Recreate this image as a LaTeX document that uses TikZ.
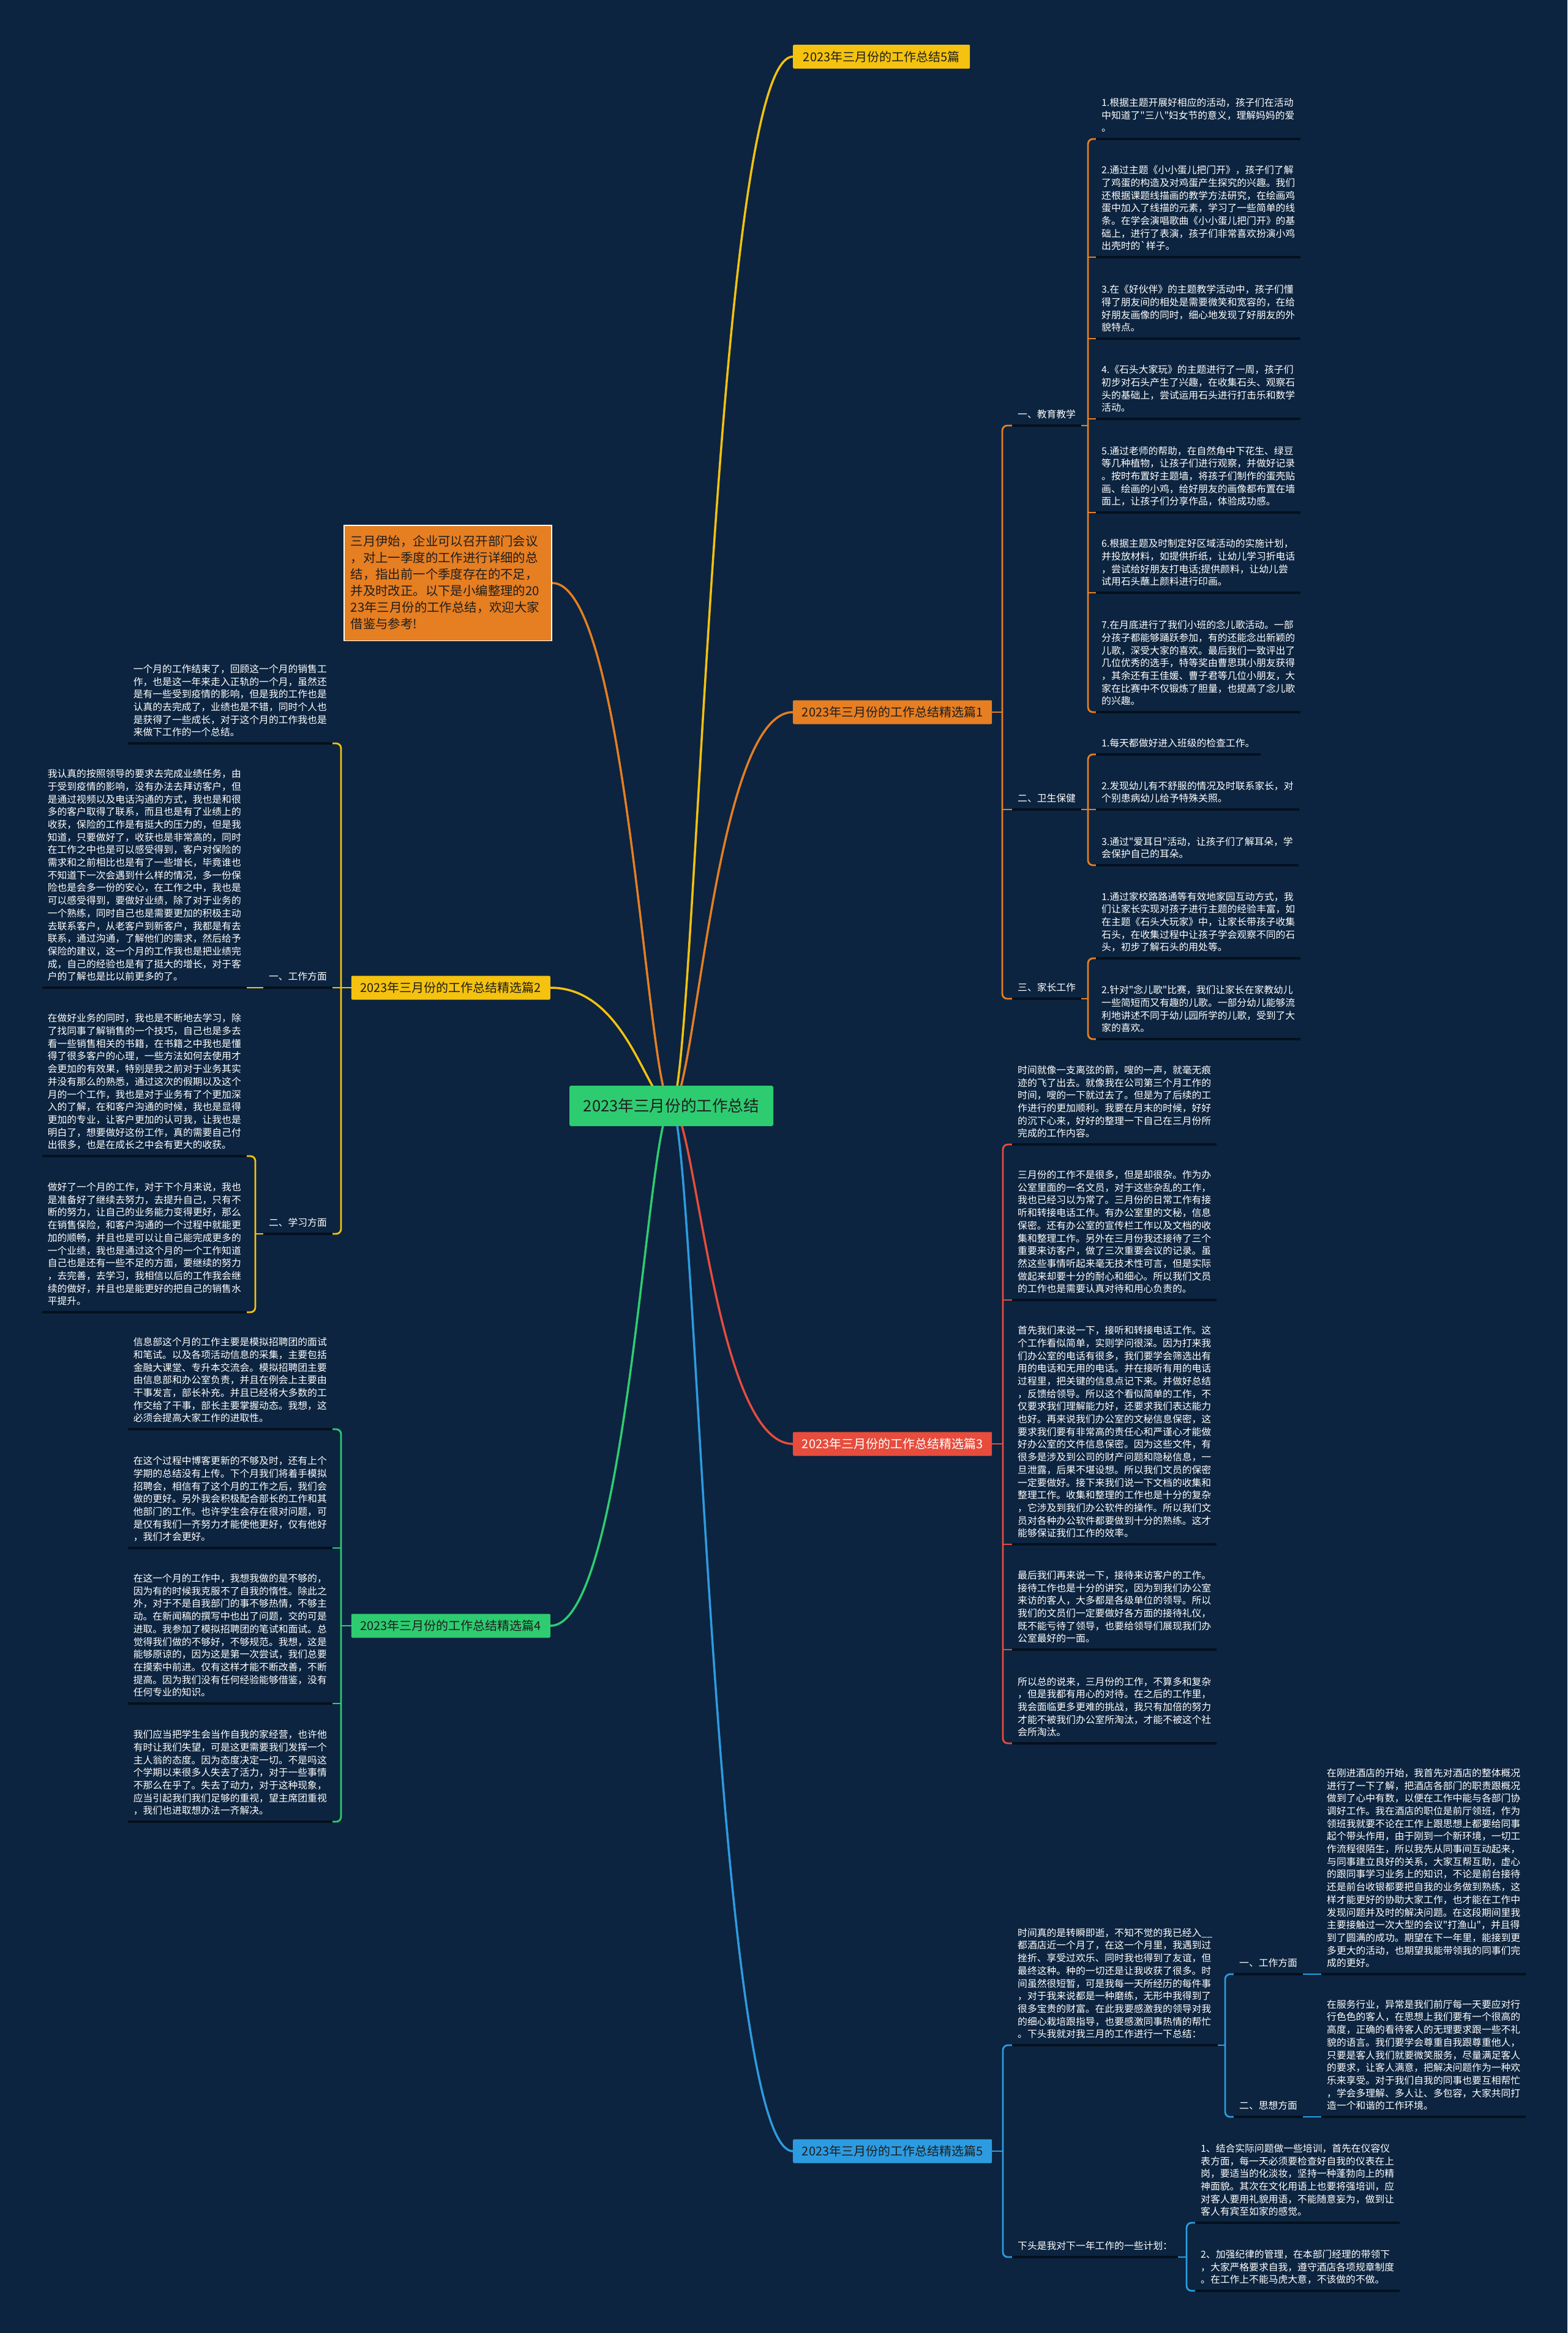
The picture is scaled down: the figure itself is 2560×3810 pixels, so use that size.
\documentclass[tikz,border=0pt]{standalone}
\usepackage{fontspec}
\setmainfont{Noto Sans CJK SC}[Ligatures=TeXOff]
\definecolor{bgc}{RGB}{12,36,63}
\definecolor{ulc}{RGB}{4,16,30}
\definecolor{cy}{HTML}{F4C20F}
\definecolor{co}{HTML}{E67E22}
\definecolor{cr}{HTML}{E74C3C}
\definecolor{cg}{HTML}{2ECC71}
\definecolor{cb}{HTML}{2D9BE0}
\definecolor{dtext}{RGB}{30,30,30}
\pgfdeclarelayer{bg}
\pgfsetlayers{bg,main}
\newcommand\lstrut{\rule[-4pt]{0pt}{19pt}}
\newcommand\istrut{\rule[-5pt]{0pt}{24pt}}
\tikzset{
 leaf/.style={text=white, font=\fontsize{15.8pt}{20.7pt}\selectfont, align=left, inner xsep=9pt, inner ysep=8pt, execute at begin node=\lstrut, execute at end node=\lstrut},
 uline/.style={draw=ulc, line width=3.5pt},
 conn/.style={draw=#1, line width=2.8pt, rounded corners=8pt},
 stub/.style={draw=#1, line width=2.8pt},
 curve/.style={draw=#1, line width=3.5pt},
 branch/.style={fill=#1, text=dtext, font=\fontsize{20pt}{24pt}\selectfont, minimum height=39pt, minimum width=325pt, inner xsep=14pt, inner ysep=0pt, rounded corners=2pt},
}
\newcommand\leafR[4]{\node[leaf,anchor=south west] (#1) at (#2,#3) {#4};\draw[uline] (#1.south west) -- (#1.south east);}
\newcommand\leafL[4]{\node[leaf,anchor=south east] (#1) at (#2,#3) {#4};\draw[uline] (#1.south west) -- (#1.south east);}
\begin{document}
\begin{tikzpicture}[x=1pt,y=-1pt]
\begin{pgfonlayer}{bg}
\fill[bgc] (0,0) rectangle (2560,3810);
\end{pgfonlayer}
\useasboundingbox (0,0) rectangle (2560,3810);

% root and branches
\node[fill=cg, text=dtext, font=\fontsize{25.6pt}{30pt}\selectfont, minimum width=333pt, minimum height=66pt, rounded corners=3pt] (root) at (1096.5,1806) {2023年三月份的工作总结};
\node[branch=cy, anchor=west, minimum width=289pt] (b5t) at (1295,92.5) {2023年三月份的工作总结5篇};
\node[branch=co, anchor=west] (b1) at (1295,1163) {2023年三月份的工作总结精选篇1};
\node[branch=cr, anchor=west, text=white] (b3) at (1295,2358) {2023年三月份的工作总结精选篇3};
\node[branch=cb, anchor=west] (b5) at (1295,3513) {2023年三月份的工作总结精选篇5};
\node[branch=cy, anchor=east] (b2) at (899,1613) {2023年三月份的工作总结精选篇2};
\node[branch=cg, anchor=east] (b4) at (899,2655) {2023年三月份的工作总结精选篇4};
\node[fill=co, draw=white, line width=1.5pt, text=dtext, font=\fontsize{20.4pt}{27pt}\selectfont, text width=317pt, align=left, inner xsep=11pt, inner ysep=14.8pt, anchor=north west, execute at begin node=\istrut, execute at end node=\istrut] (intro) at (561,857) {三月伊始，企业可以召开部门会议\\，对上一季度的工作进行详细的总\\结，指出前一个季度存在的不足，\\并及时改正。以下是小编整理的20\\23年三月份的工作总结，欢迎大家\\借鉴与参考!};

% branch 1
\leafR{lab11}{1653}{695}{一、教育教学}
\leafR{lab12}{1653}{1322}{二、卫生保健}
\leafR{lab13}{1653}{1631}{三、家长工作}
\leafR{i1}{1790}{227}{1.根据主题开展好相应的活动，孩子们在活动\\中知道了"三八"妇女节的意义，理解妈妈的爱\\。}
\leafR{i2}{1790}{420}{2.通过主题《小小蛋儿把门开》，孩子们了解\\了鸡蛋的构造及对鸡蛋产生探究的兴趣。我们\\还根据课题线描画的教学方法研究，在绘画鸡\\蛋中加入了线描的元素，学习了一些简单的线\\条。在学会演唱歌曲《小小蛋儿把门开》的基\\础上，进行了表演，孩子们非常喜欢扮演小鸡\\出壳时的`样子。}
\leafR{i3}{1790}{553}{3.在《好伙伴》的主题教学活动中，孩子们懂\\得了朋友间的相处是需要微笑和宽容的，在给\\好朋友画像的同时，细心地发现了好朋友的外\\貌特点。}
\leafR{i4}{1790}{684}{4.《石头大家玩》的主题进行了一周，孩子们\\初步对石头产生了兴趣，在收集石头、观察石\\头的基础上，尝试运用石头进行打击乐和数学\\活动。}
\leafR{i5}{1790}{837}{5.通过老师的帮助，在自然角中下花生、绿豆\\等几种植物，让孩子们进行观察，并做好记录\\。按时布置好主题墙，将孩子们制作的蛋壳贴\\画、绘画的小鸡，给好朋友的画像都布置在墙\\面上，让孩子们分享作品，体验成功感。}
\leafR{i6}{1790}{968}{6.根据主题及时制定好区域活动的实施计划，\\并投放材料，如提供折纸，让幼儿学习折电话\\，尝试给好朋友打电话;提供颜料，让幼儿尝\\试用石头蘸上颜料进行印画。}
\leafR{i7}{1790}{1163}{7.在月底进行了我们小班的念儿歌活动。一部\\分孩子都能够踊跃参加，有的还能念出新颖的\\儿歌，深受大家的喜欢。最后我们一致评出了\\几位优秀的选手，特等奖由曹思琪小朋友获得\\，其余还有王佳媛、曹子君等几位小朋友，大\\家在比赛中不仅锻炼了胆量，也提高了念儿歌\\的兴趣。}
\leafR{w1}{1790}{1232}{1.每天都做好进入班级的检查工作。}
\leafR{w2}{1790}{1322}{2.发现幼儿有不舒服的情况及时联系家长，对\\个别患病幼儿给予特殊关照。}
\leafR{w3}{1790}{1413}{3.通过"爱耳日"活动，让孩子们了解耳朵，学\\会保护自己的耳朵。}
\leafR{j1}{1790}{1565}{1.通过家校路路通等有效地家园互动方式，我\\们让家长实现对孩子进行主题的经验丰富，如\\在主题《石头大玩家》中，让家长带孩子收集\\石头，在收集过程中让孩子学会观察不同的石\\头，初步了解石头的用处等。}
\leafR{j2}{1790}{1697}{2.针对"念儿歌"比赛，我们让家长在家教幼儿\\一些简短而又有趣的儿歌。一部分幼儿能够流\\利地讲述不同于幼儿园所学的儿歌，受到了大\\家的喜欢。}

% branch 3
\leafR{p1}{1653}{1869}{时间就像一支离弦的箭，嗖的一声，就毫无痕\\迹的飞了出去。就像我在公司第三个月工作的\\时间，嗖的一下就过去了。但是为了后续的工\\作进行的更加顺利。我要在月末的时候，好好\\的沉下心来，好好的整理一下自己在三月份所\\完成的工作内容。}
\leafR{p2}{1653}{2123}{三月份的工作不是很多，但是却很杂。作为办\\公室里面的一名文员，对于这些杂乱的工作，\\我也已经习以为常了。三月份的日常工作有接\\听和转接电话工作。有办公室里的文秘，信息\\保密。还有办公室的宣传栏工作以及文档的收\\集和整理工作。另外在三月份我还接待了三个\\重要来访客户，做了三次重要会议的记录。虽\\然这些事情听起来毫无技术性可言，但是实际\\做起来却要十分的耐心和细心。所以我们文员\\的工作也是需要认真对待和用心负责的。}
\leafR{p3}{1653}{2522}{首先我们来说一下，接听和转接电话工作。这\\个工作看似简单，实则学问很深。因为打来我\\们办公室的电话有很多，我们要学会筛选出有\\用的电话和无用的电话。并在接听有用的电话\\过程里，把关键的信息点记下来。并做好总结\\，反馈给领导。所以这个看似简单的工作，不\\仅要求我们理解能力好，还要求我们表达能力\\也好。再来说我们办公室的文秘信息保密，这\\要求我们要有非常高的责任心和严谨心才能做\\好办公室的文件信息保密。因为这些文件，有\\很多是涉及到公司的财产问题和隐秘信息，一\\旦泄露，后果不堪设想。所以我们文员的保密\\一定要做好。接下来我们说一下文档的收集和\\整理工作。收集和整理的工作也是十分的复杂\\，它涉及到我们办公软件的操作。所以我们文\\员对各种办公软件都要做到十分的熟练。这才\\能够保证我们工作的效率。}
\leafR{p4}{1653}{2694}{最后我们再来说一下，接待来访客户的工作。\\接待工作也是十分的讲究，因为到我们办公室\\来访的客人，大多都是各级单位的领导。所以\\我们的文员们一定要做好各方面的接待礼仪，\\既不能亏待了领导，也要给领导们展现我们办\\公室最好的一面。}
\leafR{p5}{1653}{2847}{所以总的说来，三月份的工作，不算多和复杂\\，但是我都有用心的对待。在之后的工作里，\\我会面临更多更难的挑战，我只有加倍的努力\\才能不被我们办公室所淘汰，才能不被这个社\\会所淘汰。}

% branch 5
\leafR{q1}{1653}{3340}{时间真的是转瞬即逝，不知不觉的我已经入\_\_\\都酒店近一个月了，在这一个月里，我遇到过\\挫折、享受过欢乐、同时我也得到了友谊，但\\最终这种。种的一切还是让我收获了很多。时\\间虽然很短暂，可是我每一天所经历的每件事\\，对于我来说都是一种磨练，无形中我得到了\\很多宝贵的财富。在此我要感激我的领导对我\\的细心栽培跟指导，也要感激同事热情的帮忙\\。下头我就对我三月的工作进行一下总结：}
\leafR{ls1}{2015}{3224}{一、工作方面}
\leafR{ls2}{2015}{3457}{二、思想方面}
\leafR{lf1}{2158}{3224}{在刚进酒店的开始，我首先对酒店的整体概况\\进行了一下了解，把酒店各部门的职责跟概况\\做到了心中有数，以便在工作中能与各部门协\\调好工作。我在酒店的职位是前厅领班，作为\\领班我就要不论在工作上跟思想上都要给同事\\起个带头作用，由于刚到一个新环境，一切工\\作流程很陌生，所以我先从同事间互动起来，\\与同事建立良好的关系，大家互帮互助，虚心\\的跟同事学习业务上的知识，不论是前台接待\\还是前台收银都要把自我的业务做到熟练，这\\样才能更好的协助大家工作，也才能在工作中\\发现问题并及时的解决问题。在这段期间里我\\主要接触过一次大型的会议"打渔山"，并且得\\到了圆满的成功。期望在下一年里，能接到更\\多更大的活动，也期望我能带领我的同事们完\\成的更好。}
\leafR{lf2}{2158}{3457}{在服务行业，异常是我们前厅每一天要应对行\\行色色的客人，在思想上我们要有一个很高的\\高度，正确的看待客人的无理要求跟一些不礼\\貌的语言。我们要学会尊重自我跟尊重他人，\\只要是客人我们就要微笑服务，尽量满足客人\\的要求，让客人满意，把解决问题作为一种欢\\乐来享受。对于我们自我的同事也要互相帮忙\\，学会多理解、多人让、多包容，大家共同打\\造一个和谐的工作环境。}
\leafR{plan}{1653}{3686}{下头是我对下一年工作的一些计划：}
\leafR{pl1}{1952}{3630}{1、结合实际问题做一些培训，首先在仪容仪\\表方面，每一天必须要检查好自我的仪表在上\\岗，要适当的化淡妆，坚持一种蓬勃向上的精\\神面貌。其次在文化用语上也要将强培训，应\\对客人要用礼貌用语，不能随意妄为，做到让\\客人有宾至如家的感觉。}
\leafR{pl2}{1952}{3741}{2、加强纪律的管理，在本部门经理的带领下\\，大家严格要求自我，遵守酒店各项规章制度\\。在工作上不能马虎大意，不该做的不做。}

% branch 2
\leafL{a1}{543}{1214}{一个月的工作结束了，回顾这一个月的销售工\\作，也是这一年来走入正轨的一个月，虽然还\\是有一些受到疫情的影响，但是我的工作也是\\认真的去完成了，业绩也是不错，同时个人也\\是获得了一些成长，对于这个月的工作我也是\\来做下工作的一个总结。}
\leafL{la1}{543}{1613}{一、工作方面}
\leafL{la2}{543}{2015}{二、学习方面}
\leafL{a2}{403}{1613}{我认真的按照领导的要求去完成业绩任务，由\\于受到疫情的影响，没有办法去拜访客户，但\\是通过视频以及电话沟通的方式，我也是和很\\多的客户取得了联系，而且也是有了业绩上的\\收获，保险的工作是有挺大的压力的，但是我\\知道，只要做好了，收获也是非常高的，同时\\在工作之中也是可以感受得到，客户对保险的\\需求和之前相比也是有了一些增长，毕竟谁也\\不知道下一次会遇到什么样的情况，多一份保\\险也是会多一份的安心，在工作之中，我也是\\可以感受得到，要做好业绩，除了对于业务的\\一个熟练，同时自己也是需要更加的积极主动\\去联系客户，从老客户到新客户，我都是有去\\联系，通过沟通，了解他们的需求，然后给予\\保险的建议，这一个月的工作我也是把业绩完\\成，自己的经验也是有了挺大的增长，对于客\\户的了解也是比以前更多的了。}
\leafL{a3}{403}{1888}{在做好业务的同时，我也是不断地去学习，除\\了找同事了解销售的一个技巧，自己也是多去\\看一些销售相关的书籍，在书籍之中我也是懂\\得了很多客户的心理，一些方法如何去使用才\\会更加的有效果，特别是我之前对于业务其实\\并没有那么的熟悉，通过这次的假期以及这个\\月的一个工作，我也是对于业务有了个更加深\\入的了解，在和客户沟通的时候，我也是显得\\更加的专业，让客户更加的认可我，让我也是\\明白了，想要做好这份工作，真的需要自己付\\出很多，也是在成长之中会有更大的收获。}
\leafL{a4}{403}{2143}{做好了一个月的工作，对于下个月来说，我也\\是准备好了继续去努力，去提升自己，只有不\\断的努力，让自己的业务能力变得更好，那么\\在销售保险，和客户沟通的一个过程中就能更\\加的顺畅，并且也是可以让自己能完成更多的\\一个业绩，我也是通过这个月的一个工作知道\\自己也是还有一些不足的方面，要继续的努力\\，去完善，去学习，我相信以后的工作我会继\\续的做好，并且也是能更好的把自己的销售水\\平提升。}

% branch 4
\leafL{g1}{543}{2334}{信息部这个月的工作主要是模拟招聘团的面试\\和笔试。以及各项活动信息的采集，主要包括\\金融大课堂、专升本交流会。模拟招聘团主要\\由信息部和办公室负责，并且在例会上主要由\\干事发言，部长补充。并且已经将大多数的工\\作交给了干事，部长主要掌握动态。我想，这\\必须会提高大家工作的进取性。}
\leafL{g2}{543}{2528}{在这个过程中博客更新的不够及时，还有上个\\学期的总结没有上传。下个月我们将着手模拟\\招聘会，相信有了这个月的工作之后，我们会\\做的更好。另外我会积极配合部长的工作和其\\他部门的工作。也许学生会存在很对问题，可\\是仅有我们一齐努力才能使他更好，仅有他好\\，我们才会更好。}
\leafL{g3}{543}{2782}{在这一个月的工作中，我想我做的是不够的，\\因为有的时候我克服不了自我的惰性。除此之\\外，对于不是自我部门的事不够热情，不够主\\动。在新闻稿的撰写中也出了问题，交的可是\\进取。我参加了模拟招聘团的笔试和面试。总\\觉得我们做的不够好，不够规范。我想，这是\\能够原谅的，因为这是第一次尝试，我们总要\\在摸索中前进。仅有这样才能不断改善，不断\\提高。因为我们没有任何经验能够借鉴，没有\\任何专业的知识。}
\leafL{g4}{543}{2975}{我们应当把学生会当作自我的家经营，也许他\\有时让我们失望，可是这更需要我们发挥一个\\主人翁的态度。因为态度决定一切。不是吗这\\个学期以来很多人失去了活力，对于一些事情\\不那么在乎了。失去了动力，对于这种现象，\\应当引起我们我们足够的重视，望主席团重视\\，我们也进取想办法一齐解决。}

\begin{pgfonlayer}{bg}
% main curves
\draw[curve=cy] (root.center) .. controls (1136,1806) and (1166,92.5) .. (b5t.west);
\draw[curve=co] (root.center) .. controls (1136,1806) and (1166,1163) .. (b1.west);
\draw[curve=cr] (root.center) .. controls (1136,1806) and (1166,2358) .. (b3.west);
\draw[curve=cb] (root.center) .. controls (1136,1806) and (1166,3513) .. (b5.west);
\draw[curve=co] (root.center) .. controls (1057,1806) and (1027,951) .. (intro.east);
\draw[curve=cy] (root.center) .. controls (1057,1806) and (1027,1613) .. (b2.east);
\draw[curve=cg] (root.center) .. controls (1057,1806) and (1027,2655) .. (b4.east);
% branch 1
\draw[stub=co] (b1.east) -- (1637,1163);
\draw[conn=co] (lab11.south west) -| (1637,1163) |- (lab13.south west);
\draw[stub=co] (1637,1322) -- (lab12.south west);
\draw[stub=co] (lab11.south east) -- (1777,695);
\draw[conn=co] (i1.south west) -| (1777,695) |- (i7.south west);
\draw[stub=co] (1777,420) -- (i2.south west);
\draw[stub=co] (1777,553) -- (i3.south west);
\draw[stub=co] (1777,684) -- (i4.south west);
\draw[stub=co] (1777,837) -- (i5.south west);
\draw[stub=co] (1777,968) -- (i6.south west);
\draw[conn=co] (w1.south west) -| (1777,1322) |- (w3.south west);
\draw[stub=co] (lab12.south east) -- (w2.south west);
\draw[stub=co] (lab13.south east) -- (1777,1631);
\draw[conn=co] (j1.south west) -| (1777,1631) |- (j2.south west);
% branch 3
\draw[stub=cr] (b3.east) -- (1638,2358);
\draw[conn=cr] (p1.south west) -| (1638,2358) |- (p5.south west);
\draw[stub=cr] (1638,2123) -- (p2.south west);
\draw[stub=cr] (1638,2522) -- (p3.south west);
\draw[stub=cr] (1638,2694) -- (p4.south west);
% branch 5
\draw[stub=cb] (b5.east) -- (1638,3513);
\draw[conn=cb] (q1.south west) -| (1638,3513) |- (plan.south west);
\draw[stub=cb] (q1.south east) -- (2001,3340);
\draw[conn=cb] (ls1.south west) -| (2001,3340) |- (ls2.south west);
\draw[stub=cb] (ls1.south east) -- (lf1.south west);
\draw[stub=cb] (ls2.south east) -- (lf2.south west);
\draw[stub=cb] (plan.south east) -- (1938,3686);
\draw[conn=cb] (pl1.south west) -| (1938,3686) |- (pl2.south west);
% branch 2
\draw[conn=cy] (a1.south east) -| (557,1613) |- (la2.south east);
\draw[stub=cy] (b2.west) -- (la1.south east);
\draw[stub=cy] (la1.south west) -- (a2.south east);
\draw[stub=cy] (la2.south west) -- (417,2015);
\draw[conn=cy] (a3.south east) -| (417,2015) |- (a4.south east);
% branch 4
\draw[stub=cg] (b4.west) -- (557,2655);
\draw[conn=cg] (g1.south east) -| (557,2655) |- (g4.south east);
\draw[stub=cg] (557,2528) -- (g2.south east);
\draw[stub=cg] (557,2782) -- (g3.south east);
\end{pgfonlayer}
\end{tikzpicture}
\end{document}
